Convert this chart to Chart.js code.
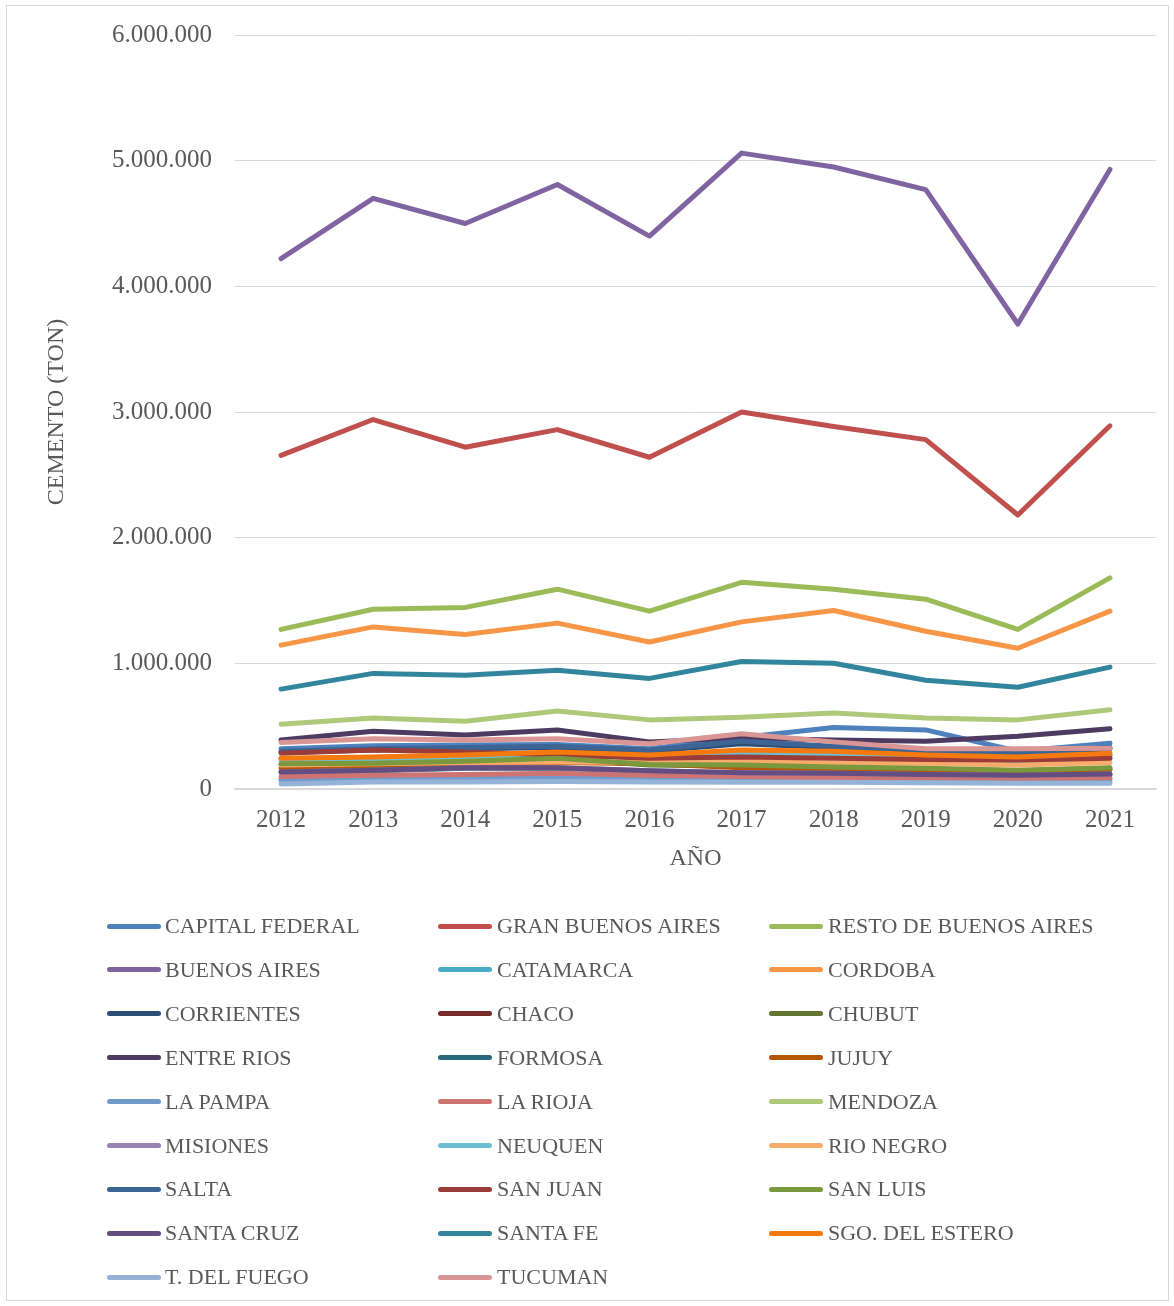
<!DOCTYPE html>
<html>
<head>
<meta charset="utf-8">
<script src="https://cdn.jsdelivr.net/npm/chart.js@4/dist/chart.umd.min.js"></script>
<style>
  html, body { margin: 0; padding: 0; background: #fff; }
  body { width: 1174px; height: 1306px; position: relative; overflow: hidden; font-family: "Liberation Serif", serif; }
  #frame { position: absolute; left: 6px; top: 5px; width: 1163px; height: 1296px; border: 1px solid #d9d9d9; box-sizing: border-box; }
  #wrap { position: absolute; left: 0; top: -3px; width: 1174px; height: 903px; }
  #legend { position: absolute; left: 0; top: 0; width: 1174px; height: 1306px; pointer-events: none; }
  .lg-line { position: absolute; width: 54px; height: 5px; border-radius: 3px; }
  .lg-text { position: absolute; font-size: 22px; color: #595959; line-height: 26px; white-space: nowrap; }
</style>
</head>
<body>
<div id="frame"></div>
<div id="wrap"><canvas id="c"></canvas></div>
<div id="legend"></div>
<script>
const years = ['2012','2013','2014','2015','2016','2017','2018','2019','2020','2021'];
const yTicks = [0, 1000000, 2000000, 3000000, 4000000, 5000000, 6000000];

const capitalFederal = [320000, 345000, 350000, 355000, 320000, 410000, 490000, 470000, 300000, 365000];
const granBuenosAires = [2655000, 2940000, 2720000, 2860000, 2640000, 3000000, 2885000, 2780000, 2180000, 2890000];
const restoBuenosAires = [1270000, 1430000, 1445000, 1590000, 1415000, 1645000, 1590000, 1510000, 1270000, 1680000];
const buenosAires = [4220000, 4700000, 4500000, 4810000, 4400000, 5060000, 4950000, 4770000, 3700000, 4930000];
const catamarca = [75000, 80000, 85000, 90000, 80000, 80000, 85000, 80000, 70000, 85000];
const cordoba = [1145000, 1290000, 1230000, 1320000, 1170000, 1330000, 1420000, 1255000, 1120000, 1415000];
const corrientes = [290000, 310000, 320000, 330000, 300000, 360000, 330000, 300000, 270000, 320000];
const chaco = [240000, 250000, 260000, 290000, 260000, 300000, 290000, 260000, 240000, 270000];
const chubut = [190000, 200000, 210000, 240000, 190000, 185000, 170000, 160000, 145000, 165000];
const entreRios = [390000, 460000, 430000, 470000, 375000, 405000, 390000, 380000, 420000, 480000];
const formosa = [130000, 145000, 165000, 165000, 140000, 125000, 120000, 110000, 105000, 115000];
const jujuy = [165000, 175000, 185000, 210000, 200000, 170000, 160000, 150000, 140000, 155000];
const laPampa = [70000, 80000, 85000, 90000, 80000, 77000, 70000, 65000, 60000, 65000];
const laRioja = [100000, 110000, 115000, 125000, 110000, 100000, 90000, 90000, 85000, 90000];
const mendoza = [515000, 565000, 540000, 620000, 550000, 570000, 605000, 565000, 550000, 630000];
const misiones = [135000, 150000, 170000, 170000, 145000, 130000, 125000, 115000, 110000, 120000];
const neuquen = [230000, 240000, 250000, 280000, 260000, 285000, 270000, 250000, 220000, 250000];
const rioNegro = [190000, 200000, 210000, 215000, 210000, 225000, 205000, 205000, 190000, 210000];
const salta = [300000, 320000, 330000, 340000, 310000, 380000, 340000, 310000, 280000, 330000];
const sanJuan = [285000, 310000, 295000, 270000, 245000, 255000, 245000, 235000, 230000, 245000];
const sanLuis = [200000, 205000, 220000, 245000, 195000, 190000, 175000, 165000, 150000, 170000];
const santaCruz = [135000, 150000, 170000, 170000, 145000, 130000, 125000, 115000, 110000, 120000];
const santaFe = [795000, 920000, 905000, 945000, 880000, 1015000, 1000000, 865000, 810000, 970000];
const sgoDelEstero = [245000, 255000, 270000, 295000, 270000, 310000, 300000, 270000, 255000, 285000];
const tDelFuego = [40000, 55000, 55000, 60000, 55000, 53000, 53000, 50000, 45000, 45000];
const tucuman = [370000, 400000, 390000, 400000, 360000, 440000, 375000, 320000, 320000, 325000];

const seriesNames = ['CAPITAL FEDERAL','GRAN BUENOS AIRES','RESTO DE BUENOS AIRES','BUENOS AIRES','CATAMARCA','CORDOBA',
  'CORRIENTES','CHACO','CHUBUT','ENTRE RIOS','FORMOSA','JUJUY','LA PAMPA','LA RIOJA','MENDOZA','MISIONES','NEUQUEN',
  'RIO NEGRO','SALTA','SAN JUAN','SAN LUIS','SANTA CRUZ','SANTA FE','SGO. DEL ESTERO','T. DEL FUEGO','TUCUMAN'];
const seriesValues = [capitalFederal, granBuenosAires, restoBuenosAires, buenosAires, catamarca, cordoba,
  corrientes, chaco, chubut, entreRios, formosa, jujuy, laPampa, laRioja, mendoza, misiones, neuquen,
  rioNegro, salta, sanJuan, sanLuis, santaCruz, santaFe, sgoDelEstero, tDelFuego, tucuman];
const seriesColors = ['#4F81BD','#C0504D','#9BBB59','#8064A2','#4BACC6','#F79646',
  '#2C4D75','#772C2A','#5F7530','#4D3B62','#276A7C','#B65708','#729ACA','#CD7371','#AFC97A','#9983B5','#6FBDD1',
  '#F9AB6B','#3C6596','#9A3D3A','#7A983E','#644D80','#31859C','#F47A10','#95B3D7','#D99694'];

const n = seriesNames.length;
const datasets = seriesNames.map((name, i) => ({
  label: name,
  data: seriesValues[i],
  borderColor: seriesColors[i],
  backgroundColor: seriesColors[i],
  borderWidth: 5,
  borderCapStyle: 'round',
  borderJoinStyle: 'round',
  pointRadius: 0,
  pointHoverRadius: 0,
  tension: 0,
  fill: false,
  order: n - i
}));

function fmt(v) {
  return String(Math.round(v)).replace(/\B(?=(\d{3})+(?!\d))/g, '.');
}

const font = 'Liberation Serif';
new Chart(document.getElementById('c'), {
  type: 'line',
  data: { labels: years, datasets },
  options: {
    responsive: true,
    maintainAspectRatio: false,
    animation: false,
    events: [],
    layout: { padding: { left: 0, right: 18, top: 34, bottom: 0 } },
    plugins: { legend: { display: false }, tooltip: { enabled: false } },
    scales: {
      x: {
        offset: true,
        grid: { display: false, drawTicks: false },
        border: { display: true, color: '#d9d9d9', width: 1.5 },
        ticks: { color: '#595959', font: { family: font, size: 25 }, padding: 16 },
        title: { display: true, text: 'AÑO', color: '#595959', font: { family: font, size: 24 }, padding: { top: 0, bottom: 26.6 } },
        afterFit: (s) => { s.height = 111; }
      },
      y: {
        min: 0, max: 6000000,
        afterBuildTicks: (s) => { s.ticks = yTicks.map(v => ({ value: v })); },
        grid: { color: '#d9d9d9', lineWidth: 1, drawTicks: false },
        border: { display: false },
        ticks: { color: '#595959', font: { family: font, size: 25 }, padding: 23, callback: (v) => fmt(v) },
        title: { display: true, text: 'CEMENTO (TON)', color: '#595959', font: { family: font, size: 24 }, padding: { top: 42.6, bottom: 0 } },
        afterFit: (s) => { s.width = 235; }
      }
    }
  }
});

// Legend (3 fixed columns like the original)
const legend = document.getElementById('legend');
const lineX = [107, 438, 769];
const textX = [165, 497, 828];
seriesNames.forEach((name, i) => {
  const row = Math.floor(i / 3), col = i % 3;
  const cy = 926 + row * 43.9;
  const ln = document.createElement('div');
  ln.className = 'lg-line';
  ln.style.left = lineX[col] + 'px';
  ln.style.top = (cy - 2.5) + 'px';
  ln.style.background = seriesColors[i];
  legend.appendChild(ln);
  const tx = document.createElement('div');
  tx.className = 'lg-text';
  tx.style.left = textX[col] + 'px';
  tx.style.top = (cy - 13) + 'px';
  tx.textContent = name;
  legend.appendChild(tx);
});
</script>
</body>
</html>
